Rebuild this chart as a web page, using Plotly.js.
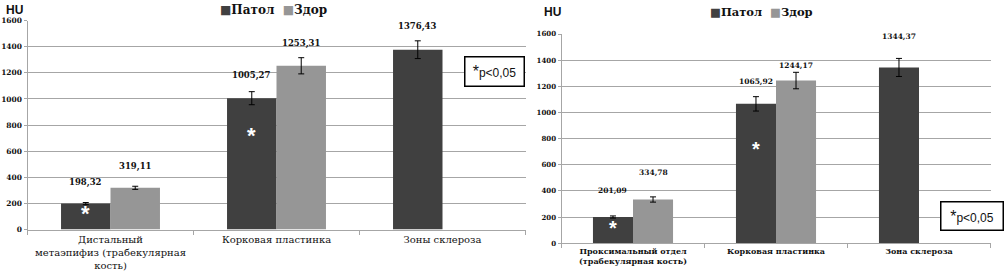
<!DOCTYPE html>
<html>
<head>
<meta charset="utf-8">
<script src="https://cdn.plot.ly/plotly-3.0.1.min.js"></script>
<style>
html,body{margin:0;padding:0;background:#fff;}
#chart{width:1005px;height:271px;}
</style>
</head>
<body>
<div id="chart"></div>
<script>
// ---------- DATA ----------
const seriesNames = ['Патол', 'Здор'];

const categoriesL = ['Дистальный метаэпифиз (трабекулярная кость)', 'Корковая пластинка', 'Зоны склероза'];
const tickTextL = ['Дистальный<br>метаэпифиз (трабекулярная<br>кость)', 'Корковая пластинка', 'Зоны склероза'];
const patolL = [198.32, 1005.27, 1376.43];
const zdorL = [319.11, 1253.31, null];
const patolErrL = [8, 50, 68];
const zdorErrL = [12, 62, 0];
const signifL = [true, true, false];

const categoriesR = ['Проксимальный отдел (трабекулярная кость)', 'Корковая пластинка', 'Зона склероза'];
const tickTextR = ['Проксимальный отдел<br>(трабекулярная кость)', 'Корковая пластинка', 'Зона склероза'];
const patolR = [201.09, 1065.92, 1344.37];
const zdorR = [334.78, 1244.17, null];
const patolErrR = [8, 55, 69];
const zdorErrR = [20, 63, 0];
const signifR = [true, true, false];

const yTickVals = [0, 200, 400, 600, 800, 1000, 1200, 1400, 1600];
const yUnit = 'HU';
const pNote = '<span style="font-size:16px">*</span>p&lt;0,05';

// ---------- STYLE ----------
const colPatol = '#404040';
const colZdor = '#969696';
const gridCol = '#a6a6a6';
const serif = 'DejaVu Serif';
const sans = 'Liberation Sans';
const W = 1005, H = 271;

// pixel geometry of the two panels
const L = {x0: 27.5, x1: 525.5, yTop: 20.5, yBot: 229.5, barW: 0.298, labelShift: [[21, 21], [23, 22], [23]], starY: [120, 720]};
const R = {x0: 561.5, x1: 990.5, yTop: 34, yBot: 243.3, barW: 0.28, labelShift: [[26, 27], [22, 15], [31]], starY: [117, 722]};

function fmt(v) { return v.toFixed(2).replace('.', ','); }

function makeTraces(cats, patol, zdor, ePatol, eZdor, P, xa, ya) {
  const common = {type: 'bar', xaxis: xa, yaxis: ya, width: P.barW, showlegend: false,
    error_y: {type: 'data', visible: true, color: '#000', thickness: 1, width: 3}};
  return [
    Object.assign({}, common, {name: seriesNames[0], x: cats, y: patol, offset: -P.barW,
      marker: {color: colPatol, line: {width: 0}},
      error_y: Object.assign({}, common.error_y, {array: ePatol})}),
    Object.assign({}, common, {name: seriesNames[1], x: cats, y: zdor, offset: 0,
      marker: {color: colZdor, line: {width: 0}},
      error_y: Object.assign({}, common.error_y, {array: eZdor})})
  ];
}

const traces = [].concat(
  makeTraces(categoriesL, patolL, zdorL, patolErrL, zdorErrL, L, 'x', 'y'),
  makeTraces(categoriesR, patolR, zdorR, patolErrR, zdorErrR, R, 'x2', 'y2')
);

function axisX(P, cats, ticks, fs, bold, anchor) {
  return {
    domain: [P.x0 / W, P.x1 / W], type: 'category', range: [-0.5, 2.5], anchor: anchor,
    tickmode: 'array', tickvals: cats, ticktext: ticks, tickson: 'boundaries',
    ticks: 'outside', ticklen: 4, tickcolor: gridCol,
    showline: true, linecolor: gridCol, linewidth: 1, showgrid: false,
    tickfont: {family: serif, size: fs, color: '#111', weight: bold ? 'bold' : 'normal'},
    fixedrange: true
  };
}
function axisY(P, fs, anchor) {
  return {
    domain: [1 - P.yBot / H, 1 - P.yTop / H], range: [0, 1600], anchor: anchor,
    tickmode: 'array', tickvals: yTickVals, ticks: 'outside', ticklen: 3, tickcolor: gridCol,
    showline: true, linecolor: gridCol, linewidth: 1,
    showgrid: true, gridcolor: gridCol, gridwidth: 1, zeroline: false,
    tickfont: {family: serif, size: fs, color: '#111', weight: 'bold'},
    fixedrange: true
  };
}

const annotations = [];
function addLabels(cats, patol, zdor, sig, P, xa, ya, fs, starFs) {
  const pxPerUnit = (P.x1 - P.x0) / 3;
  const half = P.barW * pxPerUnit / 2;
  cats.forEach((c, i) => {
    [patol[i], zdor[i]].forEach((v, k) => {
      if (v === null) return;
      annotations.push({xref: xa, yref: ya, x: c, y: v, xshift: k === 0 ? -half : half,
        yshift: P.labelShift[i][k], showarrow: false, text: fmt(v),
        font: {family: serif, size: fs, color: '#111', weight: 'bold'}});
    });
    if (sig[i]) {
      annotations.push({xref: xa, yref: ya, x: c, y: P.starY[i], xshift: -half,
        showarrow: false, text: '*', font: {family: sans, size: starFs, color: '#fff', weight: 'bold'}});
    }
  });
}
addLabels(categoriesL, patolL, zdorL, signifL, L, 'x', 'y', 8.5, 22);
addLabels(categoriesR, patolR, zdorR, signifR, R, 'x2', 'y2', 7.5, 20);

// unit labels
annotations.push({xref: 'paper', yref: 'paper', x: 4 / W, y: 1 - 10 / H, xanchor: 'left', yanchor: 'middle',
  showarrow: false, text: yUnit, font: {family: sans, size: 12, color: '#111', weight: 'bold'}});
annotations.push({xref: 'paper', yref: 'paper', x: 542 / W, y: 1 - 12 / H, xanchor: 'left', yanchor: 'middle',
  showarrow: false, text: yUnit, font: {family: sans, size: 12, color: '#111', weight: 'bold'}});

// legends (drawn as text with coloured squares)
function legendText() {
  return '<span style="color:' + colPatol + '">■</span>' + seriesNames[0] +
    '  <span style="color:' + colZdor + '">■</span>' + seriesNames[1];
}
annotations.push({xref: 'paper', yref: 'paper', x: 218 / W, y: 1 - 10 / H, xanchor: 'left', yanchor: 'middle',
  showarrow: false, text: legendText(), font: {family: serif, size: 12, color: '#111', weight: 'bold'}});
annotations.push({xref: 'paper', yref: 'paper', x: 708 / W, y: 1 - 12 / H, xanchor: 'left', yanchor: 'middle',
  showarrow: false, text: legendText(), font: {family: serif, size: 11.5, color: '#111', weight: 'bold'}});

// p-value boxes
annotations.push({xref: 'paper', yref: 'paper', x: 494 / W, y: 1 - 72 / H, xanchor: 'center', yanchor: 'middle',
  showarrow: false, text: pNote, width: 56, height: 26, bgcolor: '#fff', bordercolor: '#000', borderwidth: 1.5,
  font: {family: sans, size: 12, color: '#111'}});
annotations.push({xref: 'paper', yref: 'paper', x: 971.5 / W, y: 1 - 215.5 / H, xanchor: 'center', yanchor: 'middle',
  showarrow: false, text: pNote, width: 59, height: 25, bgcolor: '#fff', bordercolor: '#000', borderwidth: 1.5,
  font: {family: sans, size: 12, color: '#111'}});

const layout = {
  width: W, height: H, margin: {l: 0, r: 0, t: 0, b: 0},
  paper_bgcolor: '#fff', plot_bgcolor: '#fff',
  barmode: 'overlay', showlegend: false,
  xaxis: axisX(L, categoriesL, tickTextL, 10, false, 'y'),
  yaxis: axisY(L, 7.5, 'x'),
  xaxis2: axisX(R, categoriesR, tickTextR, 8, true, 'y2'),
  yaxis2: axisY(R, 7, 'x2'),
  annotations: annotations
};

Plotly.newPlot('chart', traces, layout, {staticPlot: true, displayModeBar: false});
</script>
</body>
</html>
